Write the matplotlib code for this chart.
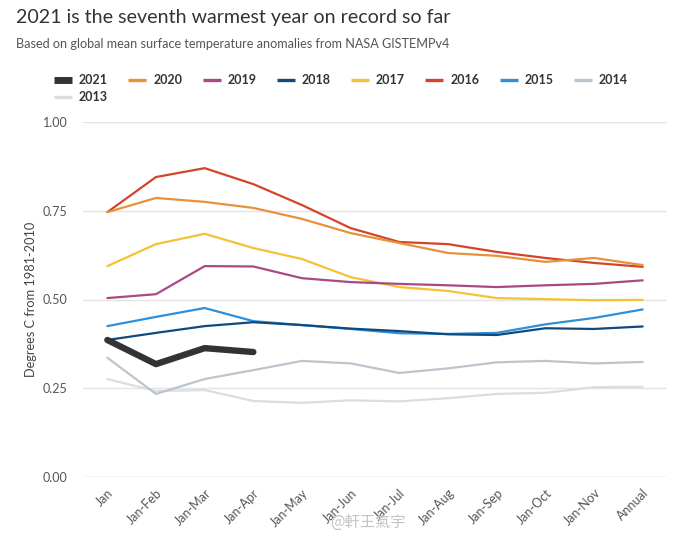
import matplotlib
matplotlib.use("Agg")
import matplotlib.pyplot as plt
from matplotlib.lines import Line2D

periods = ["Jan", "Jan-Feb", "Jan-Mar", "Jan-Apr", "Jan-May", "Jan-Jun",
           "Jan-Jul", "Jan-Aug", "Jan-Sep", "Jan-Oct", "Jan-Nov", "Annual"]

y2021 = [0.386, 0.318, 0.363, 0.352]
y2020 = [0.746, 0.786, 0.775, 0.758, 0.727, 0.687, 0.659, 0.631, 0.623, 0.606, 0.617, 0.597]
y2019 = [0.504, 0.515, 0.594, 0.593, 0.560, 0.549, 0.544, 0.540, 0.535, 0.540, 0.544, 0.554]
y2018 = [0.386, 0.406, 0.425, 0.436, 0.428, 0.418, 0.411, 0.402, 0.400, 0.419, 0.417, 0.424]
y2017 = [0.594, 0.656, 0.685, 0.645, 0.614, 0.563, 0.535, 0.524, 0.504, 0.501, 0.498, 0.499]
y2016 = [0.746, 0.845, 0.870, 0.825, 0.766, 0.701, 0.662, 0.656, 0.634, 0.617, 0.603, 0.592]
y2015 = [0.425, 0.451, 0.476, 0.439, 0.428, 0.417, 0.405, 0.403, 0.406, 0.430, 0.448, 0.472]
y2014 = [0.336, 0.234, 0.276, 0.301, 0.327, 0.320, 0.293, 0.306, 0.323, 0.327, 0.320, 0.324]
y2013 = [0.276, 0.242, 0.245, 0.214, 0.209, 0.216, 0.213, 0.222, 0.234, 0.237, 0.253, 0.254]

years = ["2021", "2020", "2019", "2018", "2017", "2016", "2015", "2014", "2013"]
series = [y2021, y2020, y2019, y2018, y2017, y2016, y2015, y2014, y2013]
colors = ["#333333", "#e8913a", "#a94a86", "#0f4a7e", "#f4c232", "#d2452b",
          "#2f8fd8", "#bcc5cd", "#d9dee2"]
widths = [4.6, 1.6, 1.6, 1.6, 1.6, 1.6, 1.6, 1.6, 1.6]

font = "Lato"
plt.rcParams["font.family"] = [font, "DejaVu Sans"]

fig = plt.figure(figsize=(6.9, 5.39), dpi=100)
ax = fig.add_axes([83 / 690, 1 - 477 / 539, (667 - 83) / 690, 355 / 539])

x = list(range(len(periods)))
for yr, vals, c, w in reversed(list(zip(years, series, colors, widths))):
    ax.plot(x[:len(vals)], vals, color=c, lw=w, solid_capstyle="round",
            solid_joinstyle="miter" if yr != "2021" else "round",
            zorder=10 if yr == "2021" else 3)
handles = [Line2D([], [], color=c, lw=(5 if yr == "2021" else 2.4), solid_capstyle="butt")
           for yr, c in zip(years, colors)]

ax.set_xlim(-0.5, 11.5)
ax.set_ylim(0, 1.0)
ax.set_yticks([0, 0.25, 0.5, 0.75, 1.0])
ax.set_yticklabels(["0.00", "0.25", "0.50", "0.75", "1.00"])
ax.set_xticks(x)
ax.set_xticklabels(periods, rotation=45, ha="right", rotation_mode="anchor")
for s in ax.spines.values():
    s.set_visible(False)
ax.tick_params(axis="both", length=0, labelsize=9, labelcolor="#555555")
ax.tick_params(axis="y", pad=11)
ax.tick_params(axis="x", pad=7)
for v in [0.25, 0.5, 0.75, 1.0]:
    ax.axhline(v, color="#e3e3e3", lw=1.0, zorder=0)
ax.axhline(0, color="#c9d1e0", lw=1.0, zorder=0)
ax.set_ylabel("Degrees C from 1981-2010", fontsize=9.2, color="#444444", labelpad=4)

fig.text(16 / 690, 1 - 17 / 539, "2021 is the seventh warmest year on record so far",
         fontsize=14.1, color="#333333", va="center", ha="left")
fig.text(16 / 690, 1 - 44 / 539,
         "Based on global mean surface temperature anomalies from NASA GISTEMPv4",
         fontsize=9.1, color="#555555", va="center", ha="left")

# legend: order so that column-major fill yields row-major layout
order = [0, 8, 1, 2, 3, 4, 5, 6, 7]
leg = fig.legend([handles[i] for i in order], [years[i] for i in order],
                 ncol=8, loc="upper left", bbox_to_anchor=(54 / 690, 1 - 74 / 539),
                 frameon=False, handlelength=1.45, handletextpad=0.55,
                 columnspacing=1.62, labelspacing=0.42, borderpad=0, borderaxespad=0,
                 prop={"family": font, "weight": "bold", "size": 9})
for t in leg.get_texts():
    t.set_color("#333333")

fig.text(330 / 690, 1 - 522 / 539, "@軒王氣宇", fontsize=11, color="#c4c4c4",
         family=["Noto Sans CJK TC", "DejaVu Sans"], va="center", ha="left")

fig.savefig("out.png", dpi=100)
